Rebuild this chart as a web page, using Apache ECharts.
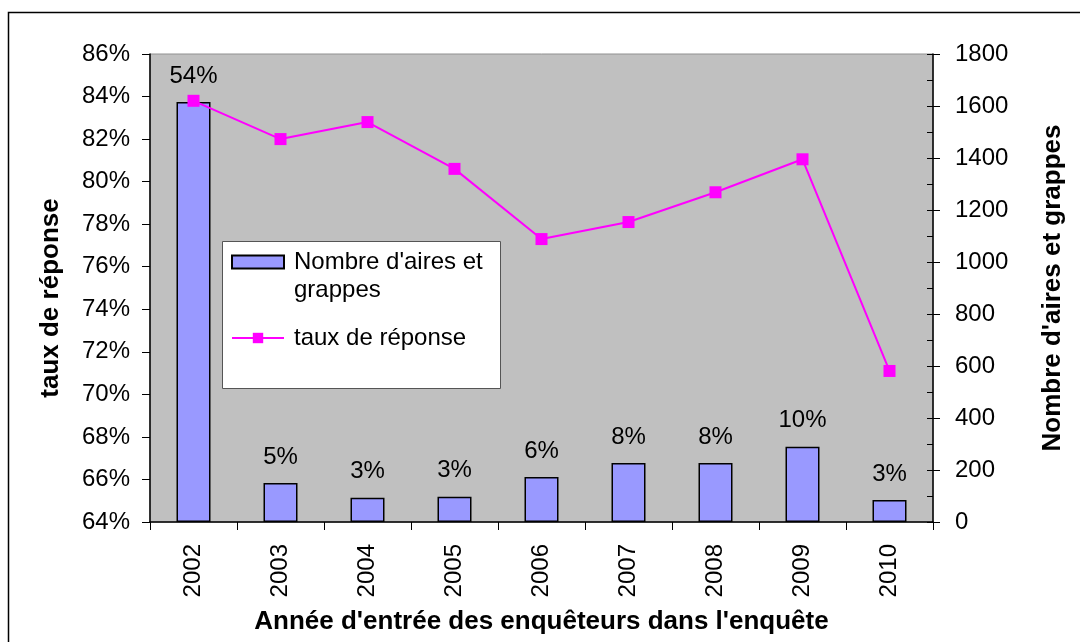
<!DOCTYPE html>
<html>
<head>
<meta charset="utf-8">
<script src="https://cdn.jsdelivr.net/npm/echarts@6/dist/echarts.min.js"></script>
<style>
  html, body { margin: 0; padding: 0; background: #fff; }
  #chart { width: 1080px; height: 642px; }
</style>
</head>
<body>
<div id="chart"></div>
<script>
var years = ['2002','2003','2004','2005','2006','2007','2008','2009','2010'];
var nbAires = [1615, 150, 93, 97, 173, 227, 227, 289, 85];
var partLabels = ['54%','5%','3%','3%','6%','8%','8%','10%','3%'];
var tauxReponse = [83.8, 82.0, 82.8, 80.6, 77.3, 78.1, 79.5, 81.05, 71.1];

var font = 'Liberation Sans, Arial, sans-serif';

var chart = echarts.init(document.getElementById('chart'));
var option = {
    animation: false,
    textStyle: { fontFamily: font },
    graphic: [
        //cadre extérieur
        { type: 'rect', shape: { x: 8.5, y: 12.5, width: 1200, height: 800 },
          style: { fill: null, stroke: '#000', lineWidth: 1.5 }, z: -10 },
        //fond de la légende
        { type: 'rect', shape: { x: 222.5, y: 241.5, width: 278, height: 147 },
          style: { fill: '#fff', stroke: '#555', lineWidth: 1 }, z: 10 }
    ],
    grid: {
        left: 150, right: 147, top: 54, bottom: 120,
        outerBoundsMode: 'none',
        containLabel: false,
        show: true, backgroundColor: '#c0c0c0', borderColor: '#909090', borderWidth: 1
    },
    legend: {
        orient: 'vertical',
        left: 231, top: 220,
        padding: 0,
        itemGap: 20,
        itemWidth: 52, itemHeight: 13,
        z: 11,
        textStyle: { fontSize: 24, color: '#000', fontFamily: font, lineHeight: 28, padding: [0, 0, 0, 5] },
        formatter: function (name) {
            if (name === 'Nombre d\'aires et grappes') return '\nNombre d\'aires et\ngrappes';
            return name;
        },
        data: [
            { name: 'Nombre d\'aires et grappes', icon: 'rect' },
            { name: 'taux de réponse' }
        ]
    },
    xAxis: {
        type: 'category',
        data: years,
        name: 'Année d\'entrée des enquêteurs dans l\'enquête',
        nameLocation: 'middle',
        nameGap: 87,
        nameTextStyle: { fontSize: 26, fontWeight: 'bold', color: '#000', verticalAlign: 'top' },
        axisLine: { lineStyle: { color: '#000', width: 1.5 } },
        axisTick: { show: true, length: 8, lineStyle: { color: '#000' } },
        axisLabel: { rotate: 90, fontSize: 24, color: '#000', margin: 22 }
    },
    yAxis: [
        {
            type: 'value', position: 'left',
            min: 64, max: 86, interval: 2,
            name: 'taux de réponse',
            nameLocation: 'middle', nameGap: 86,
            nameTextStyle: { fontSize: 26, fontWeight: 'bold', color: '#000', padding: [0, 20, 0, 0] },
            axisLine: { show: true, lineStyle: { color: '#000', width: 1.5 } },
            axisTick: { show: true, length: 8, lineStyle: { color: '#000' } },
            axisLabel: { fontSize: 24, color: '#000', margin: 20, formatter: '{value}%' },
            splitLine: { show: false }
        },
        {
            type: 'value', position: 'right',
            min: 0, max: 1800, interval: 200,
            name: 'Nombre d\'aires et grappes',
            nameLocation: 'middle', nameGap: 107,
            nameTextStyle: { fontSize: 26, fontWeight: 'bold', color: '#000' },
            axisLine: { show: true, lineStyle: { color: '#000', width: 1.5 } },
            axisTick: { show: true, length: 7, lineStyle: { color: '#000' } },
            axisLabel: { fontSize: 24, color: '#000', margin: 22, formatter: function (v) { return String(v); } },
            splitLine: { show: false }
        },
        {
            //petites graduations intérieures de l'axe droit
            type: 'value', position: 'right',
            min: 0, max: 1800, interval: 100,
            axisLine: { show: false },
            axisTick: { show: true, inside: true, length: 6, lineStyle: { color: '#000' } },
            axisLabel: { show: false },
            splitLine: { show: false }
        }
    ],
    series: [
        {
            name: 'Nombre d\'aires et grappes',
            type: 'bar',
            yAxisIndex: 1,
            data: nbAires,
            barWidth: 34,
            itemStyle: { color: '#9999ff', borderColor: '#000', borderWidth: 1.5 },
            label: {
                show: true, position: 'top', distance: 14,
                fontSize: 24, color: '#000',
                formatter: function (p) { return partLabels[p.dataIndex]; }
            }
        },
        {
            name: 'taux de réponse',
            type: 'line',
            yAxisIndex: 0,
            data: tauxReponse,
            symbol: 'rect',
            symbolSize: 12,
            lineStyle: { color: '#ff00ff', width: 2 },
            itemStyle: { color: '#ff00ff' },
            z: 5
        }
    ]
};
chart.setOption(option);
</script>
</body>
</html>
